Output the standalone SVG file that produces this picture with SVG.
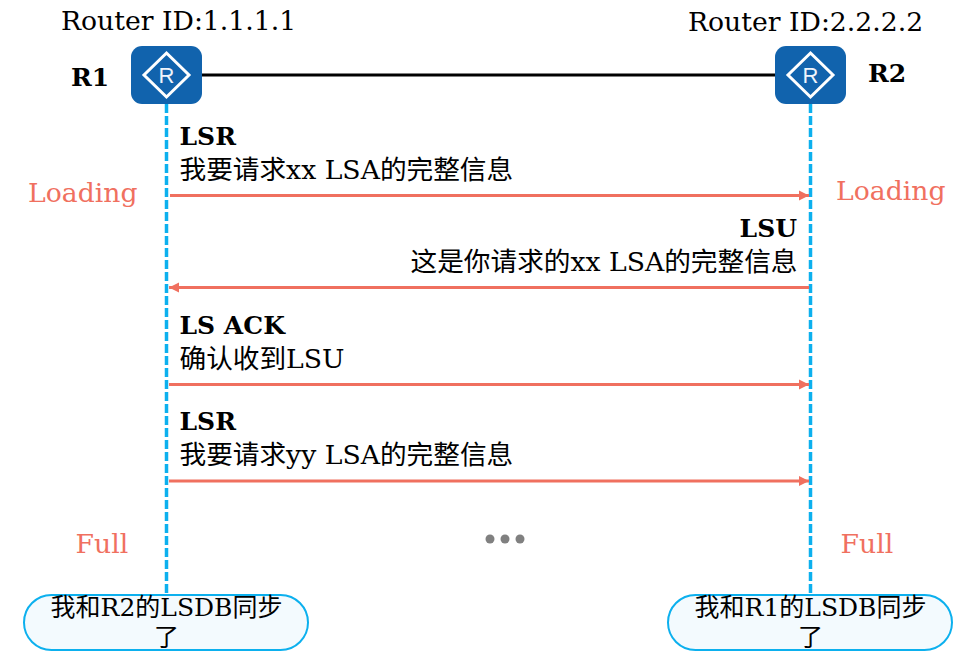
<svg xmlns="http://www.w3.org/2000/svg" width="980" height="653" viewBox="0 0 980 653">
<style>
text{font-family:"DejaVu Serif","Noto Sans CJK SC",serif;fill:#000}
.t{font-size:26.670px}
.b{font-size:25px;font-weight:bold}
.m{font-size:26.670px}
.p{font-size:25px}
.s{font-size:26.670px;fill:#f0705f}
.msg{stroke:#f0705f;stroke-width:3;fill:none;marker-end:url(#a)}
.life{stroke:#0cb0ee;stroke-width:3.500;stroke-dasharray:9 3;fill:none}
.rbox{fill:#1163ad}
.dia{fill:none;stroke:#fff;stroke-width:3}
.rl{font-family:"Liberation Sans",sans-serif;font-size:22px;fill:#eef4fb}
.pill{fill:#f3fafe;stroke:#0cb0ee;stroke-width:2}
</style>
<defs><marker id="a" markerUnits="userSpaceOnUse" markerWidth="11" markerHeight="11" refX="10" refY="5.500" orient="auto"><path d="M0,0.500 L10,5.500 L0,10.500 Z" fill="#f0705f"/></marker></defs>
<g id="connectors">
<line x1="200" y1="75" x2="776" y2="75" stroke="#000" stroke-width="3"/>
<line class="life" x1="166.500" y1="104" x2="166.500" y2="594"/>
<line class="life" x1="810.500" y1="104" x2="810.500" y2="594"/>
<line class="msg" x1="170" y1="195.500" x2="809" y2="195.500"/>
<line class="msg" x1="809" y1="287.500" x2="169" y2="287.500"/>
<line class="msg" x1="169" y1="384.500" x2="809" y2="384.500"/>
<line class="msg" x1="169" y1="481" x2="809" y2="481"/>
</g>
<g id="R1">
<rect class="rbox" x="131" y="46" width="71" height="58" rx="11"/>
<path class="dia" d="M166.500 53 L189 75 L166.500 97 L144 75 Z"/>
<text class="rl" x="166.500" y="83" text-anchor="middle">R</text>
<text class="b" x="71" y="86">R1</text>
<text class="t" x="61" y="30">Router ID:1.1.1.1</text>
</g>
<g id="R2">
<rect class="rbox" x="775" y="46" width="71" height="58" rx="11"/>
<path class="dia" d="M810.500 53 L833 75 L810.500 97 L788 75 Z"/>
<text class="rl" x="810.500" y="83" text-anchor="middle">R</text>
<text class="b" x="868" y="82">R2</text>
<text class="t" x="688" y="31">Router ID:2.2.2.2</text>
</g>
<g id="labels">
<text class="b" x="179.500" y="145">LSR</text>
<text class="m" x="179.500" y="179">我要请求xx LSA的完整信息</text>
<text class="b" x="797" y="237" text-anchor="end">LSU</text>
<text class="m" x="797.500" y="271" text-anchor="end">这是你请求的xx LSA的完整信息</text>
<text class="b" x="179.500" y="334">LS ACK</text>
<text class="m" x="179.500" y="368">确认收到LSU</text>
<text class="b" x="179.500" y="430">LSR</text>
<text class="m" x="179.500" y="464">我要请求yy LSA的完整信息</text>
<text class="s" x="28" y="202">Loading</text>
<text class="s" x="836" y="200">Loading</text>
<text class="s" x="75.500" y="552.500">Full</text>
<text class="s" x="840.500" y="552.500">Full</text>
</g>
<g id="dots" fill="#808080">
<circle cx="490" cy="539" r="4.500"/><circle cx="505" cy="539" r="4.500"/><circle cx="520" cy="539" r="4.500"/>
</g>
<g id="S1">
<rect class="pill" x="24" y="595" width="284" height="55" rx="27.500"/>
<text class="p" x="166.500" y="616" text-anchor="middle">我和R2的LSDB同步</text>
<text class="p" x="166.500" y="646" text-anchor="middle">了</text>
</g>
<g id="S2">
<rect class="pill" x="668" y="595" width="284" height="55" rx="27.500"/>
<text class="p" x="810.500" y="616" text-anchor="middle">我和R1的LSDB同步</text>
<text class="p" x="810.500" y="646" text-anchor="middle">了</text>
</g>
</svg>
